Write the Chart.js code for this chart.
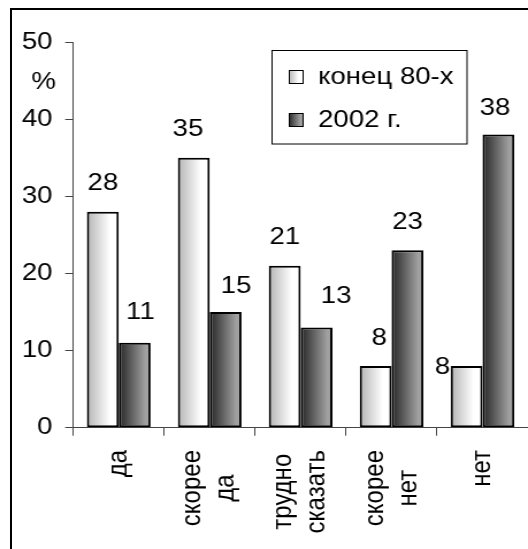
<!DOCTYPE html>
<html>
<head>
<meta charset="utf-8">
<script src="https://cdn.jsdelivr.net/npm/chart.js@4"></script>
<style>
  html, body { margin: 0; padding: 0; background: #fff; overflow: hidden; width: 528px; height: 549px; }
  #frame { position: absolute; left: 10px; top: 8px; width: 700px; height: 700px; border: 2px solid #000; box-sizing: border-box; }
  /* the chart is laid out on a narrower canvas and widened to the page width */
  #wrap { position: absolute; left: 0; top: 0; width: 459px; height: 549px; transform: scaleX(1.15033); transform-origin: 0 0; }
  canvas { display: block; }
</style>
</head>
<body>
<div id="frame"></div>
<div id="wrap"><canvas id="c" width="459" height="549"></canvas></div>
<script>
// Answer categories (each entry is the lines of its label)
const categories = [['да'], ['скорее', 'да'], ['трудно', 'сказать'], ['скорее', 'нет'], ['нет']];
const seriesNames = ['конец 80-х', '2002 г.'];
// Share of answers, %
const late80s = [28, 35, 21, 8, 8];
const year2002 = [11, 15, 13, 23, 38];
const yTicks = [0, 10, 20, 30, 40, 50];

const FONT_FAMILY = "'Liberation Sans', Arial, sans-serif";
const FONT = '24px ' + FONT_FAMILY;
const CAT_PCT = 0.7;

// horizontal shading of each series
const shading = [
  [[0, '#b4b4b4'], [0.72, '#ffffff'], [1, '#ffffff']],
  [[0, '#262626'], [0.85, '#a2a2a2'], [1, '#9a9a9a']]
];
// value label nudges [dx, dy] relative to the default spot above a bar
const labelNudge = [
  [[0, 0], [-5, 0], [0, 0], [3, 0], [-21, 29]],
  [[5, -2], [9, 2], [17, -3], [0, 0], [-3, 2]]
];

function gradient(ctx, left, right, stops) {
  const g = ctx.createLinearGradient(left, 0, right, 0);
  stops.forEach(([o, c]) => g.addColorStop(o, c));
  return g;
}

function barFill(series) {
  return (c) => {
    const chart = c.chart;
    const xs = chart.scales.x;
    if (!chart.chartArea || !xs || c.dataIndex === undefined) return shading[series][1][1];
    const center = xs.getPixelForValue(c.dataIndex);
    const bw = (xs.width / categories.length) * CAT_PCT / 2;
    const left = center - bw + series * bw;
    return gradient(chart.ctx, left, left + bw, shading[series]);
  };
}

const decor = {
  id: 'decor',
  afterDatasetsDraw(chart) {
    const { ctx } = chart;
    ctx.save();
    ctx.font = FONT;
    ctx.fillStyle = '#000';

    // value labels above bars
    ctx.textAlign = 'center';
    ctx.textBaseline = 'middle';
    chart.data.datasets.forEach((ds, di) => {
      chart.getDatasetMeta(di).data.forEach((bar, i) => {
        const n = labelNudge[di][i];
        ctx.fillText(String(ds.data[i]), bar.x + n[0], bar.y - 28 + n[1]);
      });
    });

    // unit label
    ctx.fillText('%', 37.8, 82);

    // category labels, rotated, lines centred on each other
    const xs = chart.scales.x;
    const lineH = 29;
    categories.forEach((lines, i) => {
      const px = xs.getPixelForValue(i);
      const maxW = Math.max(...lines.map(l => ctx.measureText(l).width));
      ctx.save();
      ctx.translate(px, 450);
      ctx.rotate(-Math.PI / 2);
      ctx.textAlign = 'center';
      ctx.textBaseline = 'middle';
      lines.forEach((l, j) => {
        ctx.fillText(l, -maxW / 2, (j - (lines.length - 1) / 2) * lineH);
      });
      ctx.restore();
    });

    // legend
    ctx.lineWidth = 1;
    ctx.strokeStyle = '#000';
    ctx.fillStyle = '#fff';
    ctx.fillRect(236.5, 50.5, 169.5, 93.5);
    ctx.strokeRect(236.5, 50.5, 169.5, 93.5);
    const rows = [70, 113];
    seriesNames.forEach((name, k) => {
      const sx = 251, sy = rows[k], s = 12;
      ctx.fillStyle = gradient(ctx, sx, sx + s, shading[k]);
      ctx.fillRect(sx, sy, s, 13);
      ctx.strokeRect(sx + 0.5, sy + 0.5, s, 13);
      ctx.fillStyle = '#000';
      ctx.textAlign = 'left';
      ctx.textBaseline = 'alphabetic';
      ctx.fillText(name, 276.5, sy + 13.5);
    });
    ctx.restore();
  }
};

new Chart(document.getElementById('c'), {
  type: 'bar',
  data: {
    labels: categories.map(l => l.join(' ')),
    datasets: [
      { label: seriesNames[0], data: late80s, backgroundColor: barFill(0) },
      { label: seriesNames[1], data: year2002, backgroundColor: barFill(1) }
    ]
  },
  options: {
    responsive: false,
    animation: false,
    events: [],
    layout: { padding: { left: 18.7, top: 42, right: 0, bottom: 113.3 } },
    datasets: {
      bar: {
        categoryPercentage: CAT_PCT,
        barPercentage: 1.0,
        borderColor: '#000',
        borderWidth: 2,
        borderSkipped: false
      }
    },
    plugins: { legend: { display: false }, tooltip: { enabled: false } },
    scales: {
      x: {
        ticks: { display: false },
        grid: { offset: true, drawOnChartArea: false, drawTicks: true, tickLength: 8, color: '#444' },
        border: { display: true, color: '#444', width: 1 }
      },
      y: {
        min: 0,
        max: 50,
        afterBuildTicks(s) { s.ticks = yTicks.map(v => ({ value: v })); },
        afterFit(s) { s.width = 45; },
        ticks: { font: { family: FONT_FAMILY, size: 24 }, color: '#000', padding: 11 },
        grid: { drawOnChartArea: false, drawTicks: true, tickLength: 7, color: '#444' },
        border: { display: true, color: '#444', width: 1 }
      }
    }
  },
  plugins: [decor]
});
</script>
</body>
</html>
